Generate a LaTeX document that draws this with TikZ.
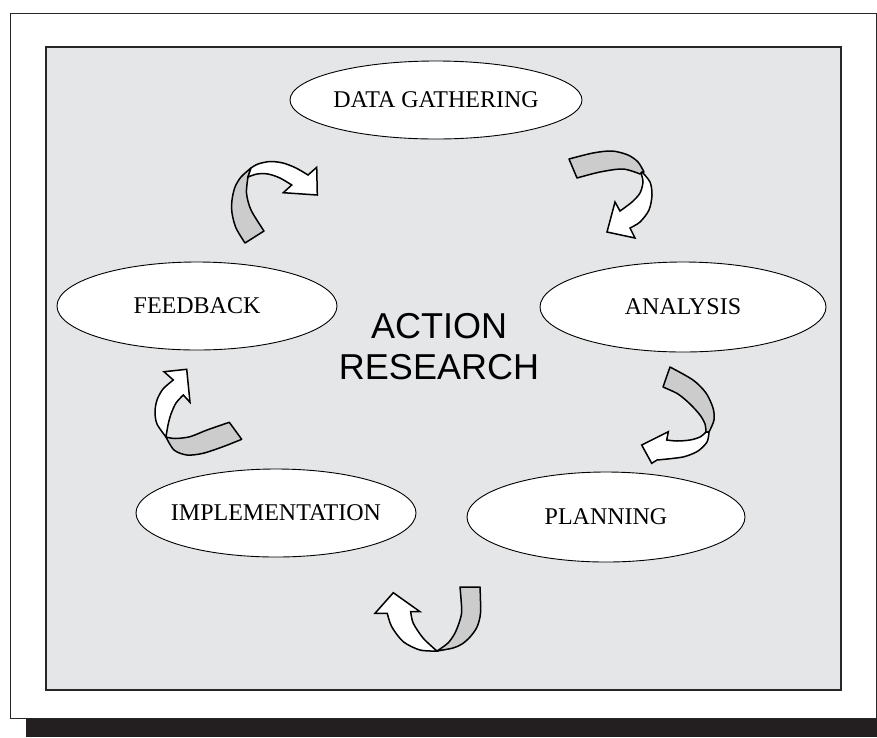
\documentclass[tikz,border=0pt]{standalone}
\usepackage{fontspec}
\setmainfont{Liberation Serif}
\newfontfamily\hsans{Liberation Sans}
\usetikzlibrary{shapes.geometric}
\definecolor{boxgray}{RGB}{229,230,231}
\definecolor{bandgray}{RGB}{204,204,204}
\definecolor{shadowc}{RGB}{35,31,32}
\begin{document}
\begin{tikzpicture}[x=1pt,y=-1pt,
  stage/.style={ellipse, draw=black, line width=0.9pt, fill=white, inner sep=0pt,
    font=\fontsize{24}{26}\selectfont},
  backband/.style={fill=bandgray, draw=black, line width=1.5pt, line join=round},
  frontband/.style={fill=white, draw=black, line width=1.5pt, line join=miter}]
\useasboundingbox (0,0) rectangle (877,737);
\fill[shadowc] (26,719) rectangle (877,737);
\draw[line width=1.2pt, draw=black!85, fill=white] (10.5,13.5) rectangle (876.5,718.5);
\draw[line width=2pt, draw=black!85, fill=boxgray] (45.5,46.5) rectangle (841,690);

\node[stage, minimum width=292pt, minimum height=78pt] (data) at (436,100) {\makebox[0pt]{DATA GATHERING}};
\node[stage, minimum width=280pt, minimum height=88pt] (feed) at (197,306) {\makebox[0pt]{FEEDBACK}};
\node[stage, minimum width=286pt, minimum height=90pt] (anal) at (683,307) {\makebox[0pt]{ANALYSIS}};
\node[stage, minimum width=278pt, minimum height=90pt] (plan) at (606,517) {\makebox[0pt]{PLANNING}};
\node[stage, minimum width=280pt, minimum height=88pt] (impl) at (276,513) {\makebox[0pt]{IMPLEMENTATION}};

\node[font=\hsans\fontsize{36}{41}\selectfont, align=center] (centre) at (439,347) {ACTION\\RESEARCH};

% arrow A: data -> analysis
\draw[backband] plot[smooth] coordinates {(569,159)(593,153)(612,151)(628,155)(638,162)(644,172)}
  -- plot[smooth] coordinates {(640,174)(623,169)(600,172)(577,178)} -- cycle;
\draw[frontband] plot[smooth] coordinates {(642,172)(650,182)(652,195)(649,210)(640,222)(630,228)}
  -- (635,238) -- (607,232) -- (615,202) -- (620,211)
  -- plot[smooth] coordinates {(620,211)(632,202)(640,193)(643,182)(641,173)} -- cycle;

% arrow B: feedback -> data
\draw[backband] plot[smooth] coordinates {(245,243)(236,228)(232,213)(232,200)(235,187)(241,177)(251,168)}
  -- plot[smooth] coordinates {(248,177)(246.5,193)(251,210)(264,231)} -- cycle;
\draw[frontband] plot[smooth] coordinates {(251,168)(258,164)(270,161.5)(283,163)(296,168)(308,175)}
  -- (316.7,167.3) -- (317.3,195) -- (283.3,192.7) -- (291.7,185)
  -- plot[smooth] coordinates {(291.7,185)(280,178)(268,174)(257,174)(248,177)} -- cycle;

% arrow C: analysis -> planning
\draw[backband] plot[smooth] coordinates {(670,367)(693,380)(706,393)(713,408)(714,420)(709,432)}
  -- plot[smooth] coordinates {(706,432)(705,424)(700,415)(690,404)(678,394)(663,387)} -- cycle;
\draw[frontband] plot[smooth] coordinates {(709,432)(707,442)(698,451)(685,456.5)(672,458.5)(657,460)}
  -- (651.7,463.3) -- (641.7,445) -- (668.3,431.7) -- (666.7,440)
  -- plot[smooth] coordinates {(666.7,440)(677,441)(690,440)(700,437)(706,432)} -- cycle;

% arrow D: implementation -> feedback
\draw[backband] plot[smooth] coordinates {(166,437)(175,438.5)(190,436.7)(207,430)(229.3,422.3)}
  -- plot[smooth] coordinates {(241.7,439.3)(223,446.7)(203,453.3)(187,455)(174,450)(166,437)} -- cycle;
\draw[frontband] plot[smooth] coordinates {(166,437)(157,424)(155,412)(157,400)(163,389)(173.3,380)}
  -- (164,371.7) -- (186.7,369.3) -- (190,402.3) -- (183.3,395)
  -- plot[smooth] coordinates {(183.3,395)(176,403)(171,414)(168,425)(166,437)} -- cycle;

% arrow E: planning -> implementation
\draw[backband] plot[smooth] coordinates {(480,587)(480.5,613)(477,627)(470,637)(462,644)(453,648)(437,651)}
  -- plot[smooth] coordinates {(437,651)(448,643)(455,633)(460,620)(461.7,610)(460,587)} -- cycle;
\draw[frontband] plot[smooth] coordinates {(437,651)(420,650)(403.3,641.7)(391.7,626.7)(387.3,613.3)}
  -- (375,613.3) -- (393.3,592.7) -- (420,611.7) -- (410.7,611.7)
  -- plot[smooth] coordinates {(410.7,611.7)(413.3,623.3)(423.3,638.3)(437,651)} -- cycle;
\end{tikzpicture}
\end{document}
